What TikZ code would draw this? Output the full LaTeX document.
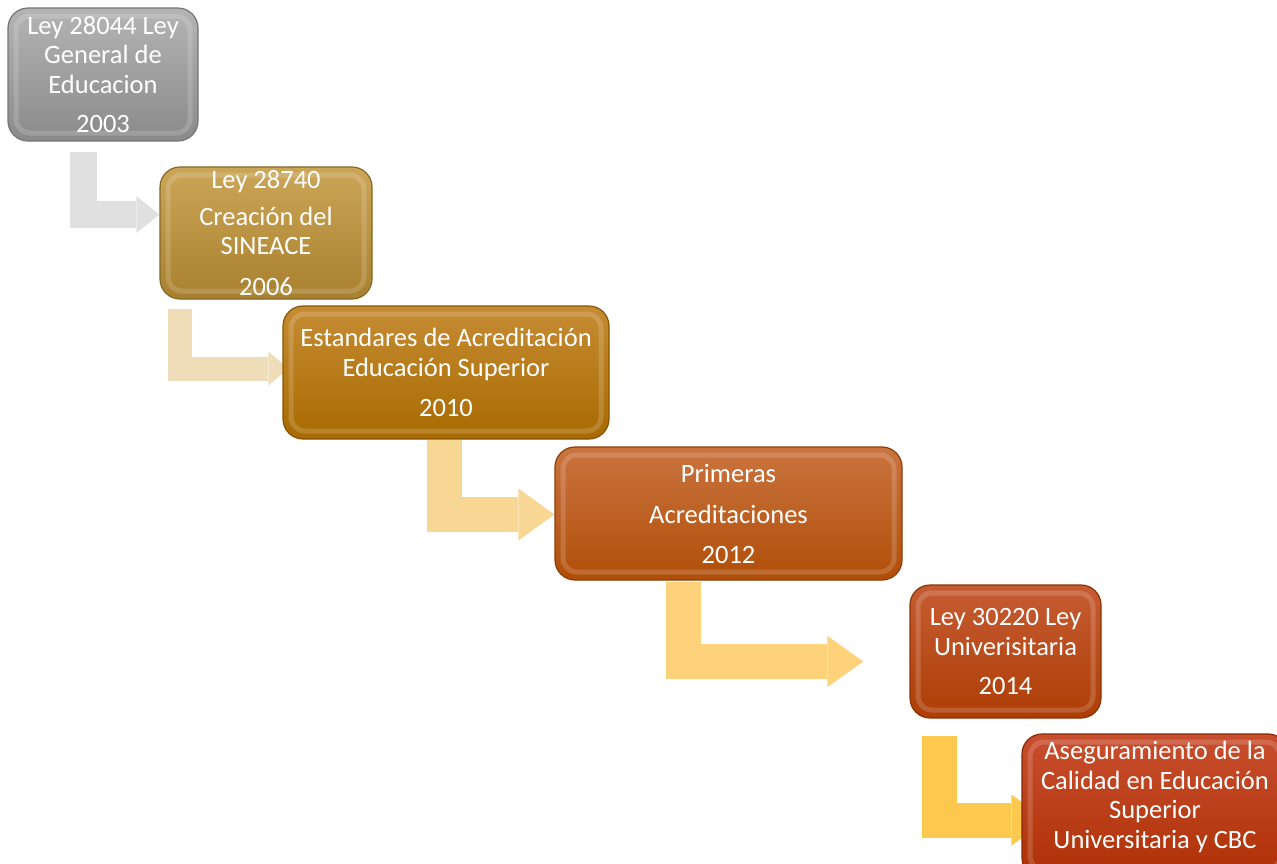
\documentclass[tikz,border=0pt]{standalone}
\usepackage{fontspec}
\setmainfont{Carlito}
\usepackage{tikz}
\usetikzlibrary{arrows.meta,backgrounds}

\definecolor{gristop}{HTML}{B4B4B4}
\definecolor{gribot}{HTML}{8A8A8A}
\definecolor{orotop}{HTML}{CCA658}
\definecolor{orobot}{HTML}{A8802E}
\definecolor{ambtop}{HTML}{C68C34}
\definecolor{ambbot}{HTML}{A86A00}
\definecolor{natop}{HTML}{CA7440}
\definecolor{nabot}{HTML}{B04E08}
\definecolor{rojtop}{HTML}{C65C34}
\definecolor{rojbot}{HTML}{AE3E06}
\definecolor{cartop}{HTML}{C84E2E}
\definecolor{carbot}{HTML}{AE3006}
\definecolor{fl1}{HTML}{E0E0E0}
\definecolor{fl2}{HTML}{EEDDB8}
\definecolor{fl3}{HTML}{F8D694}
\definecolor{fl4}{HTML}{FDD27A}
\definecolor{fl5}{HTML}{FCC94E}

\tikzset{
  hito/.style={rounded corners=20pt, line width=1.2pt, inner sep=0pt,
    align=center, text=white, font=\fontsize{26.5}{29.5}\selectfont,
    path picture={\draw[white, opacity=.16, line width=5pt, rounded corners=14pt]
      ([shift={(8pt,-8pt)}]path picture bounding box.north west) rectangle
      ([shift={(-8pt,8pt)}]path picture bounding box.south east);}},
  flecha/.style={line width=#1, line join=miter}
}

\begin{document}
\begin{tikzpicture}[x=1pt,y=-1pt]
  \useasboundingbox (0,0) rectangle (1277,863);
      \node (g03) at (103,74.5) [hito, minimum width=190pt, minimum height=133pt,
        top color=gristop, bottom color=gribot, draw=gribot!85!black]
        {Ley 28044 Ley\\General de\\Educacion\\[10pt]2003};
      \node (s06) at (266,233) [hito, minimum width=212pt, minimum height=132pt,
        top color=orotop, bottom color=orobot, draw=orobot!80!black]
        {Ley 28740\\[7pt]Creación del\\SINEACE\\[11pt]2006};
      \node (e10) at (446,372.5) [hito, minimum width=326pt, minimum height=133pt,
        top color=ambtop, bottom color=ambbot, draw=ambbot!80!black]
        {Estandares de Acreditación\\Educación Superior\\[11pt]2010};
      \node (p12) at (728.5,513.5) [hito, minimum width=347pt, minimum height=133pt,
        top color=natop, bottom color=nabot, draw=nabot!80!black]
        {Primeras\\[12pt]Acreditaciones\\[10pt]2012};
      \node (u14) at (1005.5,651.5) [hito, minimum width=191pt, minimum height=133pt,
        top color=rojtop, bottom color=rojbot, draw=rojbot!80!black]
        {Ley 30220 Ley\\Univerisitaria\\[10pt]2014};
      \node (c15) at (1155,806) [hito, minimum width=266pt, minimum height=144pt,
        top color=cartop, bottom color=carbot, draw=carbot!80!black]
        {Aseguramiento de la\\Calidad en Educación\\Superior\\Universitaria y CBC\\[-7.5pt]\mbox{}};

      \coordinate (a1) at (83.5,152);
      \coordinate (a2) at (180,309);
      \coordinate (a3) at (444.5,440);
      \coordinate (a4) at (683.5,582);
      \coordinate (a5) at (939.5,736);
      \begin{scope}[on background layer]
        \draw[flecha=27pt, fl1, -{Triangle[length=23pt,width=37pt,line width=0pt]}]
          (a1) |- ([yshift=18.5pt]s06.west);
        \draw[flecha=24pt, fl2, -{Triangle[length=20pt,width=34pt,line width=0pt]}]
          (a2) |- ([xshift=6pt,yshift=4pt]e10.west);
        \draw[flecha=35pt, fl3, -{Triangle[length=36pt,width=52pt,line width=0pt]}]
          (a3) |- ([yshift=-1pt]p12.west);
        \draw[flecha=35pt, fl4, -{Triangle[length=36pt,width=51pt,line width=0pt]}]
          (a4) |- ([xshift=-46pt,yshift=-10pt]u14.west);
        \draw[flecha=35pt, fl5, -{Triangle[length=36pt,width=51pt,line width=0pt]}]
          (a5) |- ([xshift=26pt,yshift=-14pt]c15.west);
      \end{scope}
\end{tikzpicture}
\end{document}
